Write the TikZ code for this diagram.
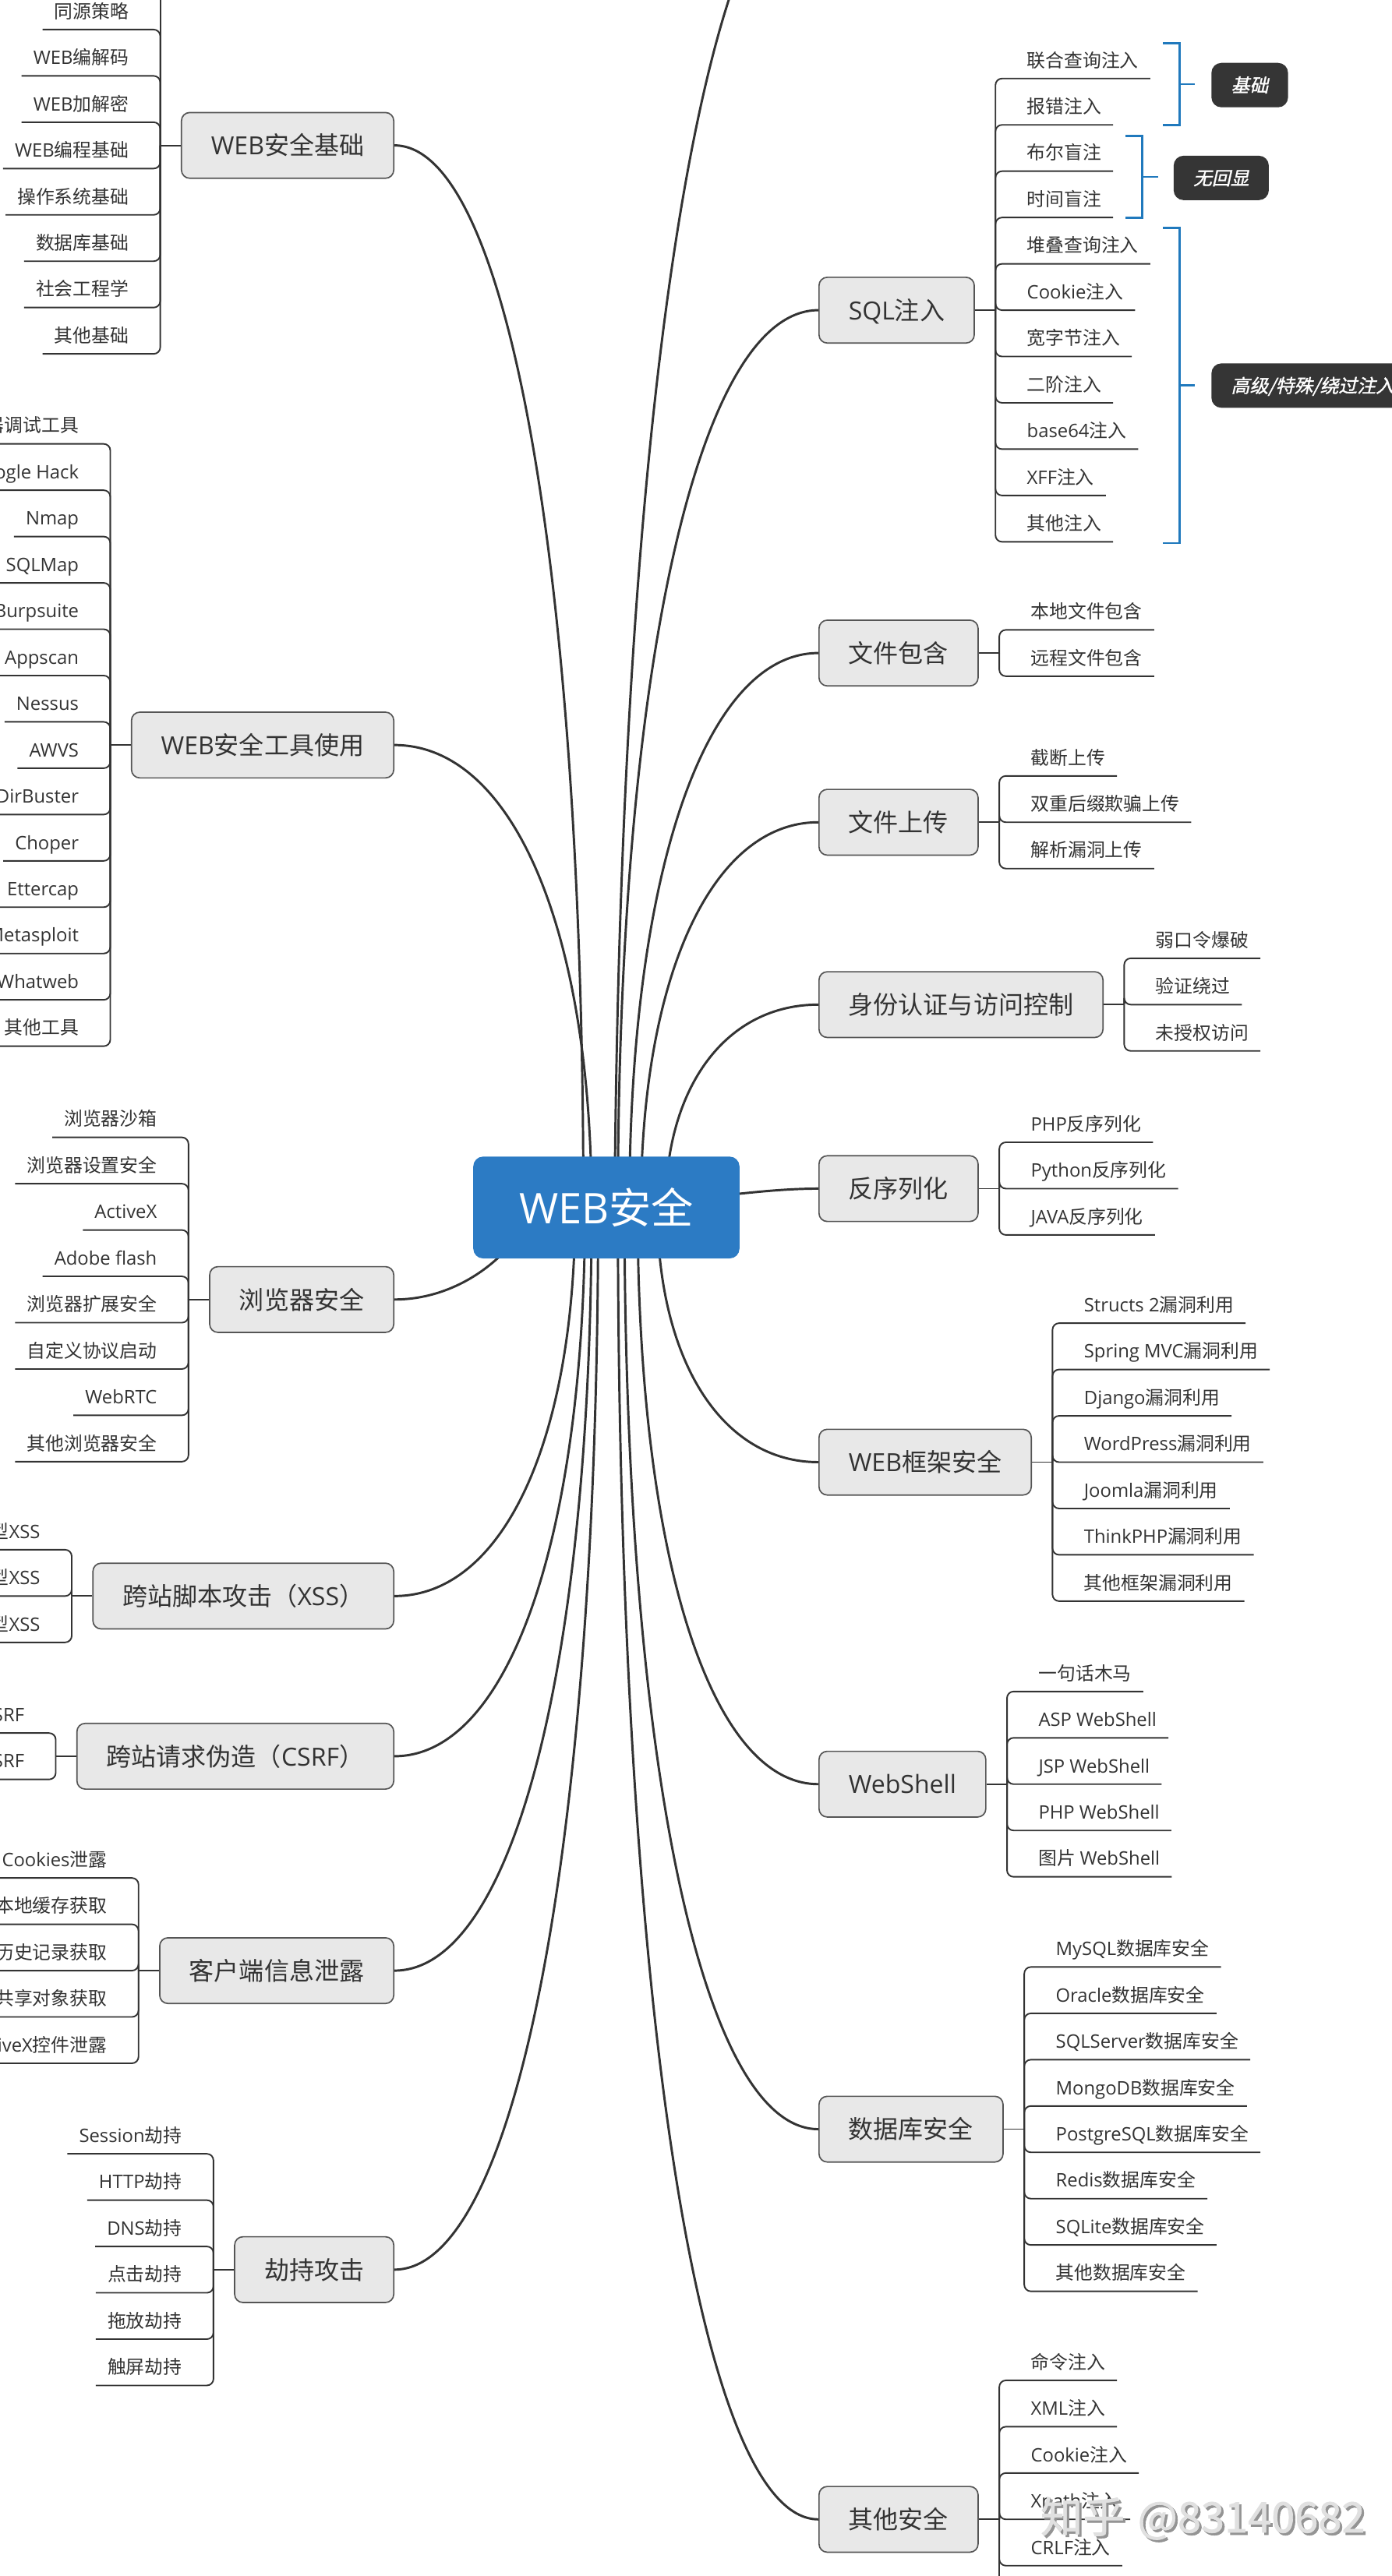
\documentclass[tikz,border=0pt]{standalone}
\usepackage{fontspec}
\setmainfont{Noto Sans CJK SC}
\newfontfamily\latf{Open Sans}
\newfontfamily\slantf[FakeSlant=0.22,FakeBold=1.4]{Noto Sans CJK SC}
\newfontfamily\wmf[FakeBold=1.2]{Noto Sans CJK SC}
\usetikzlibrary{calc}
\newcommand\lat[1]{{\latf #1}}
\definecolor{ink}{HTML}{333333}
\definecolor{boxfill}{HTML}{E8E8E8}
\definecolor{boxline}{HTML}{555555}
\definecolor{rootblue}{HTML}{2C7BC4}
\definecolor{brkblue}{HTML}{2079BD}
\definecolor{lblfill}{HTML}{353535}
\pgfdeclarelayer{back}\pgfdeclarelayer{bg}\pgfsetlayers{back,bg,main}
\tikzset{
 branch/.style={draw=boxline, line width=0.8pt, fill=boxfill, rounded corners=5pt, minimum height=40pt, inner xsep=18pt, inner ysep=0pt, text=ink, font=\fontsize{15.2}{18}\selectfont, text height=13.4pt, text depth=1.8pt},
 leaf/.style={inner sep=0pt, text=ink, font=\fontsize{11.3}{13}\selectfont},
 leafline/.style={draw=ink, line width=0.9pt, rounded corners=4pt},
 mainline/.style={draw=ink, line width=1.4pt},
 brk/.style={draw=brkblue, line width=1.3pt},
 lbl/.style={fill=lblfill, rounded corners=6pt, text=white, font=\slantf\fontsize{11.3}{13}\selectfont, minimum height=27pt, inner xsep=12pt, inner ysep=0pt, text height=9.9pt, text depth=1.4pt},
 rootbox/.style={fill=rootblue, rounded corners=6pt, minimum width=162pt, minimum height=62pt, inner sep=0pt, text=white, font=\fontsize{25.7}{30}\selectfont, text height=22.6pt, text depth=3.1pt},
}
% left group: #1 id, #2 cy, #3 label, #4 n, #5 offset, #6 items
\newcommand\grpL[6]{%
  \node[branch, anchor=east] (#1) at (240,#2) {#3};
  \coordinate (#1j) at ($(#1.west)+(-12.5,0)$);
  \draw[leafline] (#1.west) -- (#1j);
  \foreach \t [count=\i] in {#6} {
    \pgfmathsetmacro\dy{(\i+#5-(#4+1)/2)*28.2}
    \node[leaf, anchor=base east] (#1-\i) at ($(#1j)+(-19,\dy-7)$) {\t};
    \draw[leafline] (#1j) |- ($(#1-\i.base west)+(-7,7)$);
  }
}
\newcommand\grpR[6]{%
  \node[branch, anchor=west] (#1) at (498,#2) {#3};
  \coordinate (#1j) at ($(#1.east)+(12.5,0)$);
  \draw[leafline] (#1.east) -- (#1j);
  \foreach \t [count=\i] in {#6} {
    \pgfmathsetmacro\dy{(\i+#5-(#4+1)/2)*28.2}
    \node[leaf, anchor=base west] (#1-\i) at ($(#1j)+(19,\dy-7)$) {\t};
    \draw[leafline] (#1j) |- ($(#1-\i.base east)+(7,7)$);
  }
}
% curve from branch anchor to root: #1 anchor, #2 ex, #3 ey, #4 Xr
\newcommand\rootcurve[4]{%
  \pgfmathsetmacro\ctlA{#2+0.6*(#4-#2)}
  \pgfmathsetmacro\ctlB{#3+0.4*(735-#3)}
  \pgfmathsetmacro\dxr{#4-369}
  \draw[mainline] (#1) .. controls (\ctlA,#3) and (#4,\ctlB) .. ($(root.center)+(\dxr,0)$);
}
\begin{document}
\begin{tikzpicture}[x=1pt,y=-1pt]
\useasboundingbox (0,0) rectangle (847,1568);
\begin{pgfonlayer}{back}
\fill[white] (0,0) rectangle (847,1568);
\end{pgfonlayer}

% ---------- left side ----------
\grpL{gA}{88.5}{\lat{WEB}安全基础}{10}{2}{同源策略,\lat{WEB}编解码,\lat{WEB}加解密,\lat{WEB}编程基础,操作系统基础,数据库基础,社会工程学,其他基础}
\draw[leafline] (gAj) -- ++(0,-150);
\grpL{gB}{453.5}{\lat{WEB}安全工具使用}{14}{0}{浏览器调试工具,\lat{Google Hack},\lat{Nmap},\lat{SQLMap},\lat{Burpsuite},\lat{Appscan},\lat{Nessus},\lat{AWVS},\lat{DirBuster},\lat{Choper},\lat{Ettercap},\lat{Metasploit},\lat{Whatweb},其他工具}
\grpL{gC}{791}{浏览器安全}{8}{0}{浏览器沙箱,浏览器设置安全,\lat{ActiveX},\lat{Adobe flash},浏览器扩展安全,自定义协议启动,\lat{WebRTC},其他浏览器安全}
\grpL{gD}{971.5}{跨站脚本攻击（\lat{XSS}）}{3}{0}{反射型\lat{XSS},存储型\lat{XSS},\lat{DOM}型\lat{XSS}}
\grpL{gE}{1069}{跨站请求伪造（\lat{CSRF}）}{2}{0}{\lat{GET}型\lat{CSRF},\lat{POST}型\lat{CSRF}}
\grpL{gF}{1199.5}{客户端信息泄露}{5}{0}{\lat{Cookies}泄露,本地缓存获取,历史记录获取,共享对象获取,\lat{ActiveX}控件泄露}
\grpL{gG}{1381.5}{劫持攻击}{6}{0}{\lat{Session}劫持,\lat{HTTP}劫持,\lat{DNS}劫持,点击劫持,拖放劫持,触屏劫持}

% ---------- right side ----------
\grpR{gH}{188.8}{\lat{SQL}注入}{11}{0}{联合查询注入,报错注入,布尔盲注,时间盲注,堆叠查询注入,\lat{Cookie}注入,宽字节注入,二阶注入,\lat{base64}注入,\lat{XFF}注入,其他注入}
\grpR{gI}{397.5}{文件包含}{2}{0}{本地文件包含,远程文件包含}
\grpR{gJ}{500.5}{文件上传}{3}{0}{截断上传,双重后缀欺骗上传,解析漏洞上传}
\grpR{gK}{611.5}{身份认证与访问控制}{3}{0}{弱口令爆破,验证绕过,未授权访问}
\grpR{gL}{723.5}{反序列化}{3}{0}{\lat{PHP}反序列化,\lat{Python}反序列化,\lat{JAVA}反序列化}
\grpR{gM}{890}{\lat{WEB}框架安全}{7}{0}{\lat{Structs 2}漏洞利用,\lat{Spring MVC}漏洞利用,\lat{Django}漏洞利用,\lat{WordPress}漏洞利用,\lat{Joomla}漏洞利用,\lat{ThinkPHP}漏洞利用,其他框架漏洞利用}
\grpR{gN}{1086}{\lat{WebShell}}{5}{0}{一句话木马,\lat{ASP WebShell},\lat{JSP WebShell},\lat{PHP WebShell},图片 \lat{WebShell}}
\grpR{gO}{1296}{数据库安全}{8}{0}{\lat{MySQL}数据库安全,\lat{Oracle}数据库安全,\lat{SQLServer}数据库安全,\lat{MongoDB}数据库安全,\lat{PostgreSQL}数据库安全,\lat{Redis}数据库安全,\lat{SQLite}数据库安全,其他数据库安全}
\grpR{gP}{1533.5}{其他安全}{7}{0}{命令注入,\lat{XML}注入,\lat{Cookie}注入,\lat{Xpath}注入,\lat{CRLF}注入}
\draw[leafline] (gPj) -- ++(0,120);

% ---------- SQL brackets and labels ----------
\draw[brk] (707.7,26.2) -- (717.8,26.2) -- (717.8,76.2) -- (707.7,76.2);
\draw[brk] (717.8,51.2) -- (727.3,51.2);
\node[lbl, anchor=west] (b1) at (737,51.8) {基础};
\draw[brk] (685,82.7) -- (695,82.7) -- (695,132.7) -- (685,132.7);
\draw[brk] (695,107.7) -- (704.6,107.7);
\node[lbl, anchor=west] (b2) at (714,108.3) {无回显};
\draw[brk] (707.7,138.6) -- (717.8,138.6) -- (717.8,330.6) -- (707.7,330.6);
\draw[brk] (717.8,234.6) -- (727.3,234.6);
\node[lbl, anchor=west] (b3) at (737,234.7) {高级/特殊/绕过注入};

% ---------- root ----------
\node[rootbox] (root) at (369,735) {\lat{WEB}安全};
\coordinate (up) at (498,-80);

\begin{pgfonlayer}{bg}
\rootcurve{gA.east}{240}{88.5}{355}
\rootcurve{gB.east}{240}{453.5}{360}
\rootcurve{gD.east}{240}{971.5}{350}
\rootcurve{gE.east}{240}{1069}{356}
\rootcurve{gF.east}{240}{1199.5}{360}
\rootcurve{gG.east}{240}{1381.5}{364}
\rootcurve{gH.west}{498}{188.8}{376}
\rootcurve{gI.west}{498}{397.5}{383}
\rootcurve{gJ.west}{498}{500.5}{390}
\rootcurve{gK.west}{498}{611.5}{405}
\rootcurve{gM.west}{498}{890}{400}
\rootcurve{gN.west}{498}{1086}{388}
\rootcurve{gO.west}{498}{1296}{380}
\rootcurve{gP.west}{498}{1533.5}{376}
\draw[mainline] (gC.east) .. controls (275,791) and (305,770) .. ($(root.center)+(-49,10)$);
\draw[mainline] (gL.west) .. controls (470,723.5) and (440,728) .. ($(root.center)+(50,-5)$);
\draw[mainline] (up) .. controls (440,-80) and (378,180) .. ($(root.center)+(5,0)$);
\end{pgfonlayer}

% ---------- watermark ----------
\node[anchor=base west, inner sep=0pt, font=\wmf\fontsize{25.7}{28}\selectfont, text=black!42] (wms) at (634.4,1542.9) {知乎\hspace{0.3em}@83140682};
\node[anchor=base west, inner sep=0pt, font=\wmf\fontsize{25.7}{28}\selectfont, text=black!12] (wm) at (633,1541.5) {知乎\hspace{0.3em}@83140682};
\end{tikzpicture}
\end{document}
